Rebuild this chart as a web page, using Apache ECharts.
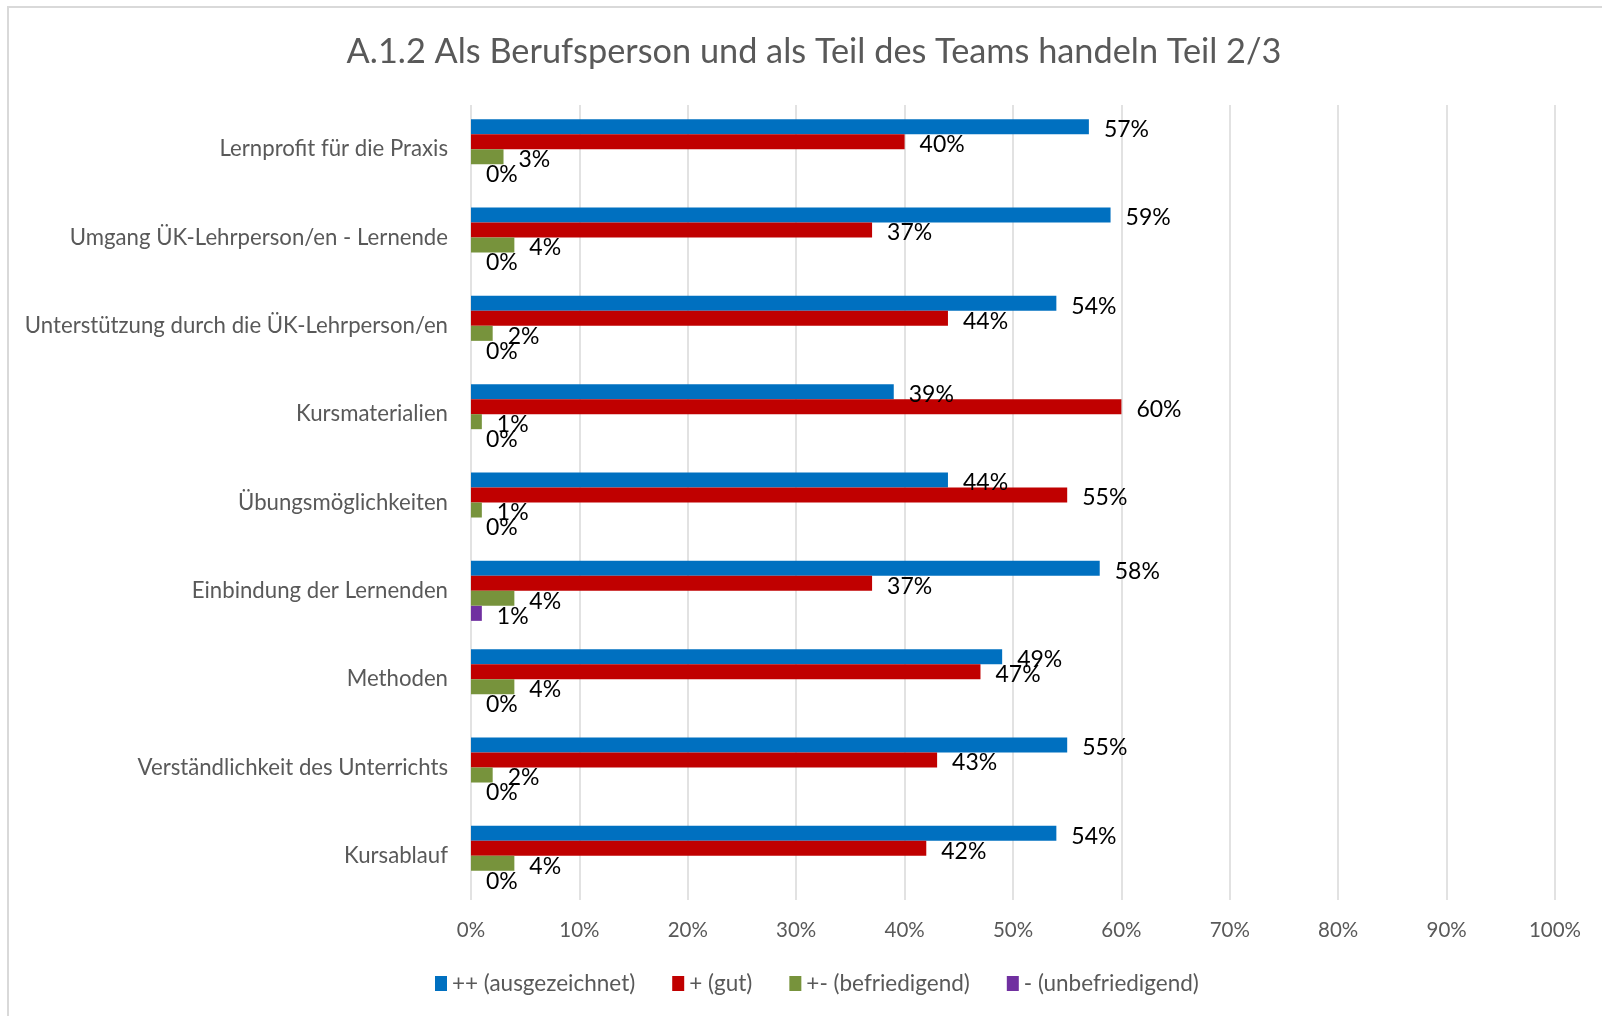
<!DOCTYPE html>
<html>
<head>
<meta charset="utf-8">
<script src="https://cdn.jsdelivr.net/npm/echarts@6/dist/echarts.min.js"></script>
<style>
  html, body { margin: 0; padding: 0; background: #fff; }
  #main { width: 1602px; height: 1016px; }
</style>
</head>
<body>
<div id="main"></div>
<script>
// Kategorien von oben nach unten
var categories = [
  'Lernprofit für die Praxis',
  'Umgang ÜK-Lehrperson/en - Lernende',
  'Unterstützung durch die ÜK-Lehrperson/en',
  'Kursmaterialien',
  'Übungsmöglichkeiten',
  'Einbindung der Lernenden',
  'Methoden',
  'Verständlichkeit des Unterrichts',
  'Kursablauf'
];
var seriesNames = ['++ (ausgezeichnet)', '+ (gut)', '+- (befriedigend)', '- (unbefriedigend)'];
var seriesColors = ['#0070c0', '#c00000', '#77933c', '#7030a0'];
// Werte in Prozent
var excellent = [57, 59, 54, 39, 44, 58, 49, 55, 54];
var good = [40, 37, 44, 60, 55, 37, 47, 43, 42];
var satisfactory = [3, 4, 2, 1, 1, 4, 4, 2, 4];
var unsatisfactory = [0, 0, 0, 0, 0, 1, 0, 0, 0];
var xTicks = [0, 10, 20, 30, 40, 50, 60, 70, 80, 90, 100];

var FONT = 'Lato, "Open Sans", sans-serif';
var myChart = echarts.init(document.getElementById('main'));

var allData = [excellent, good, satisfactory, unsatisfactory];
var series = [];
for (var i = 0; i < allData.length; i++) {
  series.push({
    name: seriesNames[i],
    type: 'bar',
    data: allData[i],
    barGap: '0%',
    barCategoryGap: '32%',
    itemStyle: { color: seriesColors[i] },
    label: {
      show: true,
      position: 'right',
      distance: 15,
      formatter: '{c}%',
      color: '#000',
      fontFamily: FONT,
      fontSize: 23,
      offset: [0, 3]
    }
  });
}

var option = {
  backgroundColor: '#fff',
  animation: false,
  textStyle: { fontFamily: FONT },
  title: {
    text: 'A.1.2 Als Berufsperson und als Teil des Teams handeln Teil 2/3',
    left: 809,
    top: 30,
    textAlign: 'center',
    textStyle: { color: '#595959', fontSize: 34.3, fontWeight: 'normal', fontFamily: FONT }
  },
  legend: {
    data: seriesNames,
    bottom: 16,
    left: 430,
    icon: 'rect',
    itemWidth: 12,
    itemHeight: 15,
    itemGap: 37,
    textStyle: { color: '#595959', fontSize: 22.5, fontFamily: FONT, padding: [0, 0, 0, 0] }
  },
  grid: { left: 471, right: 47, top: 105, bottom: 116 },
  xAxis: {
    type: 'value',
    min: 0,
    max: 100,
    interval: 10,
    axisLine: { show: false },
    axisTick: { show: false },
    splitLine: { show: true, lineStyle: { color: '#d9d9d9', width: 1.5 } },
    axisLabel: {
      color: '#595959',
      fontSize: 20.5,
      fontFamily: FONT,
      margin: 20,
      formatter: function (v) { return xTicks.indexOf(v) >= 0 ? v + '%' : ''; }
    }
  },
  yAxis: {
    type: 'category',
    inverse: true,
    data: categories,
    axisLine: { show: false },
    axisTick: { show: false },
    axisLabel: { color: '#595959', fontSize: 22.2, fontFamily: FONT, margin: 23 }
  },
  graphic: [{
    type: 'rect',
    shape: { x: 8, y: 7, width: 1700, height: 1100 },
    style: { fill: null, stroke: '#d9d9d9', lineWidth: 2 },
    silent: true
  }],
  series: series
};
myChart.setOption(option);
</script>
</body>
</html>
